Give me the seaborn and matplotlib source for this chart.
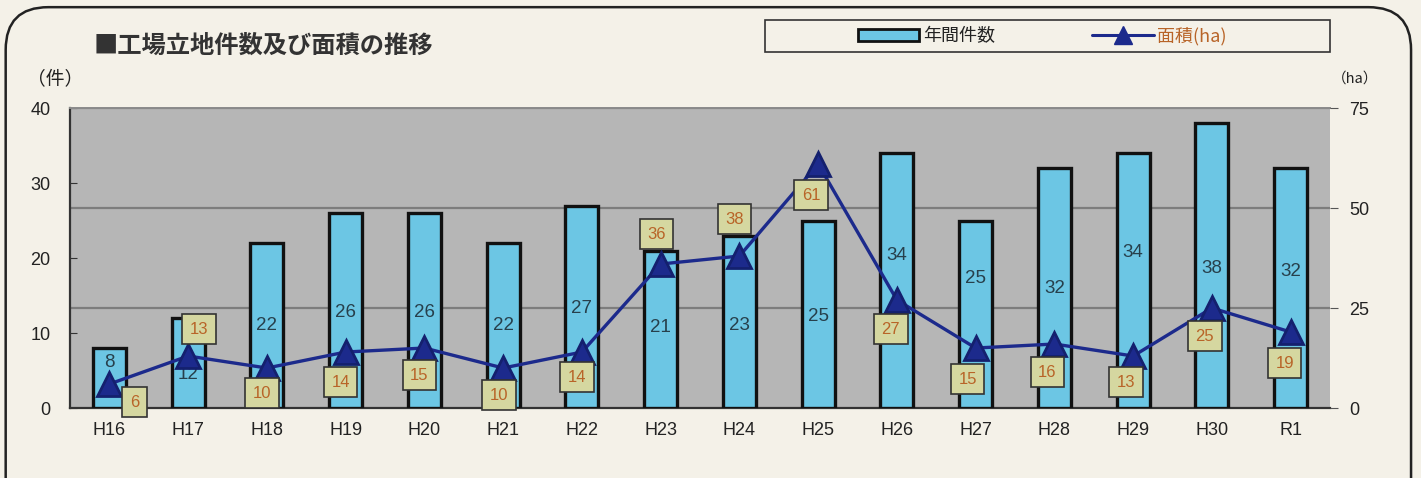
import numpy as np
import pandas as pd
import matplotlib
matplotlib.use("Agg")
import matplotlib.pyplot as plt
from matplotlib.patches import FancyBboxPatch, Patch, Rectangle
from matplotlib.lines import Line2D
import seaborn as sns

years = ["H16", "H17", "H18", "H19", "H20", "H21", "H22", "H23",
         "H24", "H25", "H26", "H27", "H28", "H29", "H30", "R1"]
counts = [8, 12, 22, 26, 26, 22, 27, 21, 23, 25, 34, 25, 32, 34, 38, 32]
area_ha = [6, 13, 10, 14, 15, 10, 14, 36, 38, 61, 27, 15, 16, 13, 25, 19]

# where the count labels sit, as share of bar height (hand placed in original)
count_lbl_pos = [0.76, 0.37, 0.5, 0.49, 0.49, 0.5, 0.49, 0.51, 0.48, 0.49,
                 0.6, 0.69, 0.5, 0.61, 0.49, 0.57]
# offsets (pixels) of the area label boxes from the marker
area_lbl_off = [(25, -18), (11, 27), (-5, -25), (-5, -30), (-5, -27), (-4, -27),
                (-5, -25), (-4, 30), (-5, 37), (-7, -31), (-6, -29), (-8, -31),
                (-7, -28), (-7, -26), (-7, -28), (-6, -31)]

left_ticks = [0, 10, 20, 30, 40]
right_ticks = [0, 25, 50, 75]

jp = ["Noto Sans CJK JP", "DejaVu Sans"]
num = ["Liberation Sans", "Noto Sans CJK JP"]

sns.set_style("white")
plt.rcParams["font.family"] = num

bg = "#f4f1e8"
fig = plt.figure(figsize=(14.21, 4.78), dpi=100, facecolor=bg)

# rounded panel frame
frame = FancyBboxPatch((0.004, -0.1), 0.989, 1.085, boxstyle="round,pad=0,rounding_size=0.03",
                       transform=fig.transFigure, fc="none", ec="#222222", lw=1.8,
                       mutation_aspect=1421 / 478)
fig.patches.append(frame)

ax = fig.add_axes([0.0493, 0.1464, 0.8867, 0.6276])
ax.set_facecolor("#b6b6b6")

df = pd.DataFrame({"year": years, "count": counts, "area": area_ha})
sns.barplot(data=df, x="year", y="count", ax=ax, color="#6cc6e4", width=0.42,
            edgecolor="#111111", linewidth=2.4, saturation=1, zorder=3)
ax.set_xlim(-0.5, len(years) - 0.5)
ax.set_ylim(0, 40)
ax.set_yticks(left_ticks)
ax.set_xlabel("")
ax.set_ylabel("")

# grid lines follow the right-hand scale
for t in right_ticks[1:]:
    ax.axhline(t * 40 / 75, color="#7d7d7d", lw=1.6, zorder=1)

for i, (c, p) in enumerate(zip(counts, count_lbl_pos)):
    ax.text(i, c * p, str(c), ha="center", va="center", fontsize=13.5,
            color="#27404c", zorder=6)

for s in ["left", "bottom"]:
    ax.spines[s].set_color("#333333")
    ax.spines[s].set_linewidth(1.6)
ax.spines["top"].set_color("#8a8a8a")
ax.spines["top"].set_linewidth(1.4)
ax.spines["right"].set_visible(False)

ax.tick_params(axis="y", direction="in", length=5, color="#333333",
               labelsize=13, pad=14, labelcolor="#222222")
ax.tick_params(axis="x", length=0, labelsize=13, pad=10, labelcolor="#222222")
ax.set_xticks(np.arange(len(years) + 1) - 0.5, minor=True)
ax.tick_params(axis="x", which="minor", direction="in", length=5, color="#333333")

ax2 = ax.twinx()
sns.lineplot(x=np.arange(len(years)), y=area_ha, ax=ax2, color="#1c2a8c", lw=2.4,
             marker="^", markersize=17, markeredgecolor="#14206e",
             markeredgewidth=2, zorder=5)
ax2.set_ylim(0, 75)
ax2.set_yticks(right_ticks)
ax2.tick_params(axis="y", direction="out", length=6, color="#555555",
                labelsize=13, pad=8, labelcolor="#222222")
for s in ax2.spines.values():
    s.set_visible(False)

for i, (a, off) in enumerate(zip(area_ha, area_lbl_off)):
    ax2.annotate(str(a), (i, a), xytext=off, textcoords="offset pixels",
                 ha="center", va="center", fontsize=12, color="#b86428", zorder=7,
                 bbox=dict(boxstyle="square,pad=0.45", fc="#d5d7a0", ec="#333333", lw=1.2))

# units and title
fig.text(0.019, 0.835, "（件）", fontsize=13.5, family=jp, color="#222222", va="center")
fig.text(0.937, 0.835, "（ha）", fontsize=10.5, family=jp, color="#222222", va="center")
fig.text(0.066, 0.905, "■工場立地件数及び面積の推移", fontsize=17.5, family=jp,
         fontweight="bold", color="#333333", va="center")

# legend box
fig.patches.append(Rectangle((0.5384, 0.891), 0.3976, 0.067, transform=fig.transFigure,
                             fc=bg, ec="#333333", lw=1.2))
handles = [Patch(fc="#6cc6e4", ec="#111111", lw=2),
           Line2D([], [], color="#1c2a8c", lw=2.2, marker="^", markersize=13)]
leg = fig.legend(handles, ["年間件数", "面積(ha)"], loc="center",
                 bbox_to_anchor=(0.7335, 0.9245), ncol=2, frameon=False,
                 prop={"family": jp, "size": 13}, handlelength=3.4, columnspacing=5.4,
                 handletextpad=0.2)
leg.get_texts()[1].set_color("#b86428")
leg.get_texts()[0].set_color("#222222")

fig.savefig("out.png", dpi=100, facecolor=bg)
